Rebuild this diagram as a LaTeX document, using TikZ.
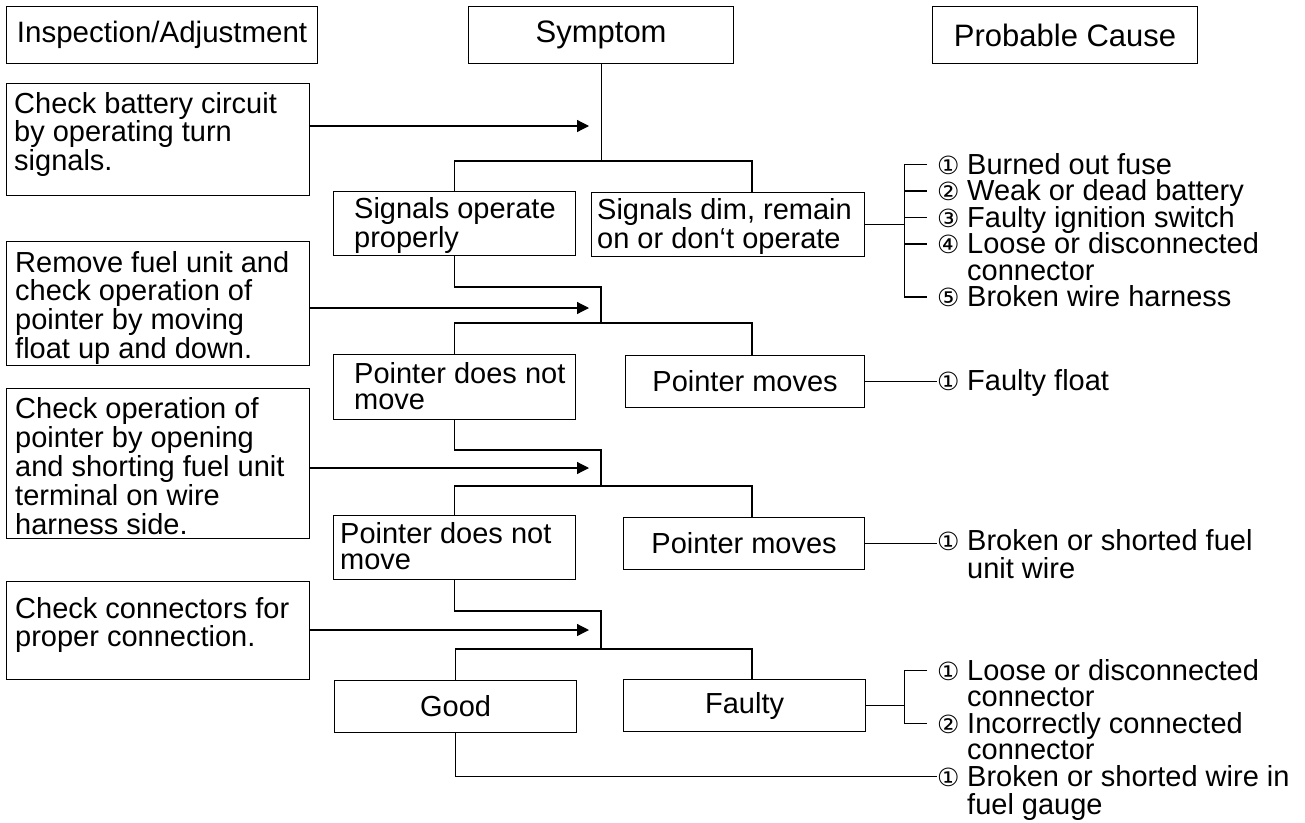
\documentclass[tikz,border=0pt]{standalone}
\usepackage{fontspec}
\setmainfont{Liberation Sans}
\newfontfamily\circfont{DejaVu Sans}
\usetikzlibrary{arrows.meta,positioning,calc}
\newcommand{\circnum}[1]{\makebox[30pt][l]{\circfont\fontsize{25}{25}\selectfont #1}}
\newcommand{\textlines}[1]{\begin{tabular}[t]{@{}l@{}}#1\end{tabular}}

\begin{document}
\begin{tikzpicture}[
    x=1pt, y=-1pt,
    font=\fontsize{29}{26.3}\selectfont,
    panel/.style={draw, line width=1.2pt, inner sep=0pt, anchor=north west},
    head/.style={panel, minimum height=57, font=\fontsize{31}{31}\selectfont},
    txt/.style={anchor=base west, inner sep=0pt},
    cause/.style={anchor=base west, inner sep=0pt},
    link/.style={line width=1.2pt},
    feed/.style={line width=1.2pt, -{Triangle[length=12pt,width=12pt]}}
]
\useasboundingbox (0,0) rectangle (1305,822);

% column heads
\node[head, minimum width=311, font=\fontsize{29.5}{29.5}\selectfont] (hInsp) at (6,6) {Inspection/Adjustment};
\node[head, minimum width=265] (hSymp) at (468,6) {Symptom};
\node[head, minimum width=265] (hCause) at (932,6) {Probable Cause};

% inspection steps
\node[panel, minimum width=303, minimum height=112] (chk1) at (6,83) {};
\node[txt] (chk1t) at (14,113) {\textlines{Check battery circuit\\by operating turn\\signals.}};
\node[panel, minimum width=303, minimum height=124] (chk2) at (6,241) {};
\node[txt] (chk2t) at (15,272) {\textlines{Remove fuel unit and\\check operation of\\pointer by moving\\float up and down.}};
\node[panel, minimum width=303, minimum height=150] (chk3) at (6,388) {};
\node[txt] (chk3t) at (15,418.5) {\textlines{Check operation of\\pointer by opening\\and shorting fuel unit\\terminal on wire\\harness side.}};
\node[panel, minimum width=303, minimum height=98] (chk4) at (6,581) {};
\node[txt] (chk4t) at (15,618) {\textlines{Check connectors for\\proper connection.}};

% symptoms
\node[panel, minimum width=242, minimum height=64] (sok) at (333,191) {};
\node[txt] (sokt) at (354,218.5) {\textlines{Signals operate\\properly}};
\node[panel, minimum width=273, minimum height=64] (sdim) at (591,192) {};
\node[txt] (sdimt) at (597,219.5) {\textlines{Signals dim, remain\\on or don‘t operate}};
\node[panel, minimum width=242, minimum height=65] (pn1) at (333,354) {};
\node[txt] (pn1t) at (354,383) {\textlines{Pointer does not\\move}};
\node[panel, minimum width=239, minimum height=52] (pm1) at (625,355) {Pointer moves};
\node[panel, minimum width=242, minimum height=64] (pn2) at (333,515) {};
\node[txt] (pn2t) at (340,543) {\textlines{Pointer does not\\move}};
\node[panel, minimum width=241, minimum height=52] (pm2) at (623,517) {Pointer moves};
\node[panel, minimum width=242, minimum height=52] (good) at (334,680) {Good};
\node[panel, minimum width=242, minimum height=52] (faulty) at (623,679) {Faulty};

% probable causes
\node[cause] (c11) at (937,174) {\circnum{①}Burned out fuse};
\node[cause] (c12) at (937,200.5) {\circnum{②}Weak or dead battery};
\node[cause] (c13) at (937,227) {\circnum{③}Faulty ignition switch};
\node[cause] (c14) at (937,253.5) {\circnum{④}\textlines{Loose or disconnected\\connector}};
\node[cause] (c15) at (937,306.5) {\circnum{⑤}Broken wire harness};
\node[cause] (cm1) at (937,390) {\circnum{①}Faulty float};
\node[cause] (cm2) at (937,550) {\circnum{①}\textlines{Broken or shorted fuel\\unit wire}};
\node[cause] (cf1) at (937,680) {\circnum{①}\textlines{Loose or disconnected\\connector}};
\node[cause] (cf2) at (937,733) {\circnum{②}\textlines{Incorrectly connected\\connector}};
\node[cause] (cg1) at (937,786) {\circnum{①}\textlines{Broken or shorted wire in\\fuel gauge}};

% branching lines
\coordinate (bar1) at (752,161);
\coordinate (bar2) at (752,323);
\coordinate (bar3) at (752,486);
\coordinate (bar4) at (752,649);
\coordinate (turn2) at (601,287);
\coordinate (turn3) at (601,450);
\coordinate (turn4) at (601,611);
\draw[link] (hSymp.south) -- (hSymp.south |- bar1);
\draw[link] (sok.north) |- (bar1) -- (sdim.north -| bar1);
\draw[link] (sok.south) |- (turn2) -- (turn2 |- bar2);
\draw[link] (pn1.north) |- (bar2) -- (pm1.north -| bar2);
\draw[link] (pn1.south) |- (turn3) -- (turn3 |- bar3);
\draw[link] (pn2.north) |- (bar3) -- (pm2.north -| bar3);
\draw[link] (pn2.south) |- (turn4) -- (turn4 |- bar4);
\draw[link] (good.north) |- (bar4) -- (faulty.north -| bar4);

% inspection arrows
\coordinate (tip1) at (589,126);
\coordinate (tip2) at (589,308);
\coordinate (tip3) at (589,468);
\coordinate (tip4) at (589,630);
\draw[feed] (chk1.east |- tip1) -- (tip1);
\draw[feed] (chk2.east |- tip2) -- (tip2);
\draw[feed] (chk3.east |- tip3) -- (tip3);
\draw[feed] (chk4.east |- tip4) -- (tip4);

% lines to causes
\foreach \c in {c11,c12,c13,c14,c15,cf1,cf2}
  \coordinate (\c-in) at ([shift={(-10,-9.5)}]\c.base west);
\draw[link] (sdim.east) -- ++(39,0) coordinate (fork1);
\draw[link] (c11-in) -| (fork1 |- c15-in) -- (c15-in);
\foreach \c in {c12,c13,c14}
  \draw[link] (fork1 |- \c-in) -- (\c-in);
\draw[link] (faulty.east) -- ++(38,0) coordinate (fork2);
\draw[link] (cf1-in) -| (fork2 |- cf2-in) -- (cf2-in);
\draw[link] (pm1.east) -- (pm1.east -| cm1.base west);
\draw[link] (pm2.east) -- (pm2.east -| cm2.base west);
\draw[link] (good.south) |- ([yshift=9.5pt]cg1.base west);

\end{tikzpicture}
\end{document}
